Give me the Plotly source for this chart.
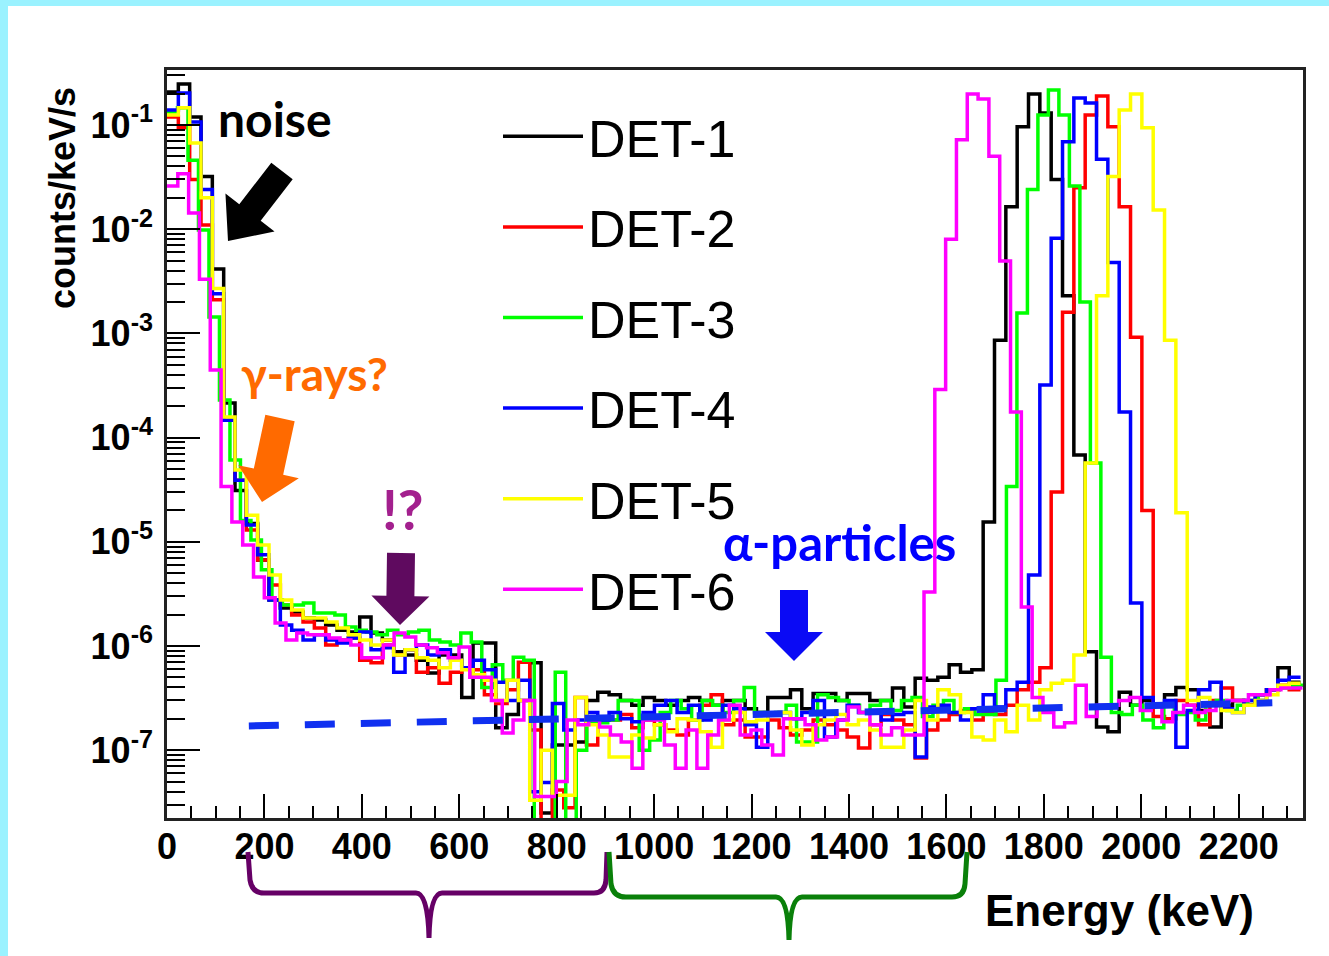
import math
import plotly.graph_objects as go

# ------------------------------------------------------------------ data
DETECTORS = ["DET-1", "DET-2", "DET-3", "DET-4", "DET-5", "DET-6"]
COLORS = ["#000000", "#FF0000", "#00FF00", "#0000FF", "#FFFF00", "#FF00FF"]
# bin width of each detector histogram (keV)
BIN_WIDTH_KEV = [23.27, 23.27, 21.54, 23.27, 23.27, 22.2]

DET1 = [0.207, 0.247, 0.119, 3.2e-2, 4.15e-3, 2.15e-4, 3.1e-5, 1.5e-5, 6.7e-6, 2.77e-6,
        2.32e-6, 2.12e-6, 1.86e-6, 1.78e-6, 1.59e-6, 1.42e-6, 1.36e-6, 1.9e-6, 1.33e-6, 1.14e-6,
        8.8e-7, 8.2e-7, 7.3e-7, 5.5e-7, 8.2e-7, 8.2e-7, 3.2e-7, 1.07e-6, 1.07e-6, 1.64e-7,
        2.2e-7, 3.0e-7, 6.9e-7, 2.5e-8, 1.12e-7, 1.12e-7, 1.2e-7, 3.0e-7, 3.6e-7, 3.4e-7,
        3.0e-7, 2.7e-7, 3.2e-7, 3.0e-7, 2.7e-7, 3.0e-7, 3.2e-7, 3.0e-7, 2.7e-7, 3.0e-7,
        3.0e-7, 2.5e-7, 2.3e-7, 3.2e-7, 3.2e-7, 3.8e-7, 2.5e-7, 3.5e-7, 3.5e-7, 3.0e-7,
        3.5e-7, 3.5e-7, 3.0e-7, 3.0e-7, 3.95e-7, 2.6e-7, 4.9e-7, 4.7e-7, 5.0e-7, 6.6e-7,
        5.6e-7, 5.9e-7, 1.55e-5, 8.6e-4, 1.64e-2, 9.6e-2, 0.198, 0.130, 3.0e-2, 2.3e-3,
        6.8e-5, 8.8e-7, 1.67e-7, 1.5e-7, 3.6e-7, 2.7e-7, 3.0e-7, 2.7e-7, 3.4e-7, 4.0e-7,
        3.8e-7, 2.4e-7, 1.67e-7, 2.7e-7, 3.0e-7, 2.7e-7, 3.0e-7, 3.8e-7, 6.2e-7, 4.5e-7]

DET2 = [0.119, 9.4e-2, 3.0e-2, 1.1e-2, 2.1e-3, 1.47e-4, 3.9e-5, 1.3e-5, 6.7e-6, 3.85e-6,
        2.47e-6, 1.98e-6, 1.7e-6, 1.49e-6, 1.02e-6, 1.14e-6, 1.19e-6, 7.3e-7, 6.9e-7, 1.02e-6,
        8.2e-7, 9.2e-7, 5.6e-7, 6.2e-7, 4.4e-7, 5.6e-7, 6.2e-7, 5.9e-7, 3.4e-7, 2.8e-7,
        3.8e-7, 7.0e-7, 1.56e-7, 1e-9, 4.15e-8, 2.8e-8, 3.2e-7, 1.12e-7, 1.95e-7, 1.95e-7,
        2.2e-7, 1.64e-7, 1.95e-7, 1.75e-7, 1.56e-7, 1.4e-7, 1.95e-7, 2.7e-7, 3.4e-7, 1.75e-7,
        1.95e-7, 1.34e-7, 1.34e-7, 1.95e-7, 1.64e-7, 1.4e-7, 1.56e-7, 1.95e-7, 1.75e-7, 1.56e-7,
        1.34e-7, 1.05e-7, 1.75e-7, 2.2e-7, 1.95e-7, 1.75e-7, 8.4e-8, 1.56e-7, 1.95e-7, 2.2e-7,
        2.4e-7, 1.95e-7, 2.3e-7, 2.2e-7, 2.7e-7, 3.8e-7, 4.5e-7, 6.2e-7, 3.0e-5, 1.6e-3,
        2.5e-2, 0.125, 0.19, 9.6e-2, 1.64e-2, 9.2e-4, 2.0e-5, 2.1e-7, 2.0e-7, 3.0e-7,
        2.7e-7, 1.75e-7, 3.0e-7, 3.95e-7, 3.0e-7, 2.7e-7, 3.4e-7, 3.8e-7, 4.2e-7, 3.8e-7]

DET3 = [0.133, 0.146, 4.6e-2, 9.8e-3, 1.44e-3, 2.3e-4, 6.1e-5, 1.6e-5, 1.04e-5, 5.4e-6,
        2.77e-6, 2.47e-6, 2.47e-6, 2.59e-6, 2.07e-6, 2.07e-6, 1.98e-6, 1.52e-6, 1.42e-6, 1.36e-6,
        1.28e-6, 1.42e-6, 1.28e-6, 1.36e-6, 1.42e-6, 1.14e-6, 1.09e-6, 1.02e-6, 1.33e-6, 1.09e-6,
        4.0e-7, 6.6e-7, 4.7e-7, 7.8e-7, 7.3e-7, 1e-9, 1e-9, 5.6e-7, 1e-9, 1.0e-7,
        1.83e-7, 1.83e-7, 1.95e-7, 3.0e-7, 3.0e-7, 1.0e-7, 1.25e-7, 2.3e-7, 3.0e-7, 2.5e-7,
        1.95e-7, 3.0e-7, 2.7e-7, 2.3e-7, 3.0e-7, 4.0e-7, 2.3e-7, 2.2e-7, 2.3e-7, 2.7e-7,
        1.2e-7, 1.2e-7, 3.4e-7, 3.2e-7, 3.0e-7, 2.7e-7, 2.3e-7, 2.7e-7, 3.0e-7, 2.4e-7,
        3.0e-7, 3.2e-7, 2.1e-7, 2.7e-7, 3.0e-7, 2.3e-7, 2.5e-7, 2.2e-7, 2.2e-7, 4.7e-7,
        3.4e-5, 1.57e-3, 2.4e-2, 0.125, 0.217, 0.125, 2.6e-2, 2.0e-3, 5.7e-5, 7.8e-7,
        2.3e-7, 2.2e-7, 2.7e-7, 1.95e-7, 1.64e-7, 2.7e-7, 2.2e-7, 2.3e-7, 1.95e-7, 2.7e-7,
        3.0e-7, 2.4e-7, 2.7e-7, 3.0e-7, 3.4e-7, 3.8e-7, 3.95e-7, 4.2e-7, 4.2e-7]

DET4 = [0.139, 0.203, 0.107, 2.4e-2, 2.4e-3, 1.47e-4, 3.9e-5, 1.45e-5, 7.5e-6, 2.77e-6,
        1.59e-6, 1.42e-6, 1.14e-6, 1.28e-6, 1.14e-6, 1.07e-6, 1.19e-6, 1.36e-6, 9.2e-7, 9.6e-7,
        5.6e-7, 9.2e-7, 1.02e-6, 8.2e-7, 9.2e-7, 7.3e-7, 6.2e-7, 7.3e-7, 5.9e-7, 4.5e-7,
        3.0e-7, 4.7e-7, 4.0e-8, 4.9e-8, 2.8e-7, 1.56e-7, 1.95e-7, 2.3e-7, 1.95e-7, 2.3e-7,
        2.0e-7, 1.87e-7, 2.3e-7, 2.7e-7, 3.0e-7, 2.3e-7, 2.7e-7, 1.95e-7, 2.2e-7, 2.7e-7,
        2.5e-7, 1.75e-7, 1.07e-7, 2.2e-7, 2.3e-7, 2.0e-7, 2.3e-7, 3.0e-7, 1.34e-7, 1.95e-7,
        2.7e-7, 2.3e-7, 2.4e-7, 1.95e-7, 2.2e-7, 2.3e-7, 8.6e-8, 2.6e-7, 2.7e-7, 2.3e-7,
        1.95e-7, 2.5e-7, 3.4e-7, 2.6e-7, 3.8e-7, 4.5e-7, 4.8e-6, 3.2e-4, 8.2e-3, 6.9e-2,
        0.182, 0.163, 4.7e-2, 4.8e-3, 1.76e-4, 2.59e-6, 3.2e-7, 2.7e-7, 3.0e-7, 1.07e-7,
        2.4e-7, 3.8e-7, 4.5e-7, 2.5e-7, 2.3e-7, 3.0e-7, 3.4e-7, 3.8e-7, 4.7e-7, 5.0e-7]

DET5 = [0.125, 0.146, 6.7e-2, 2.0e-2, 2.7e-3, 1.58e-4, 4.9e-5, 1.8e-5, 9.3e-6, 4.8e-6,
        2.77e-6, 2.21e-6, 1.86e-6, 1.86e-6, 1.7e-6, 1.49e-6, 1.28e-6, 1.14e-6, 1.02e-6, 1.14e-6,
        8.2e-7, 9.2e-7, 7.7e-7, 7.3e-7, 6.2e-7, 7.3e-7, 5.9e-7, 5.3e-7, 4.7e-7, 3.0e-7,
        4.7e-7, 3.0e-7, 3.3e-8, 1.0e-7, 3.7e-8, 3.7e-8, 3.2e-7, 1.75e-7, 1.4e-7, 8.6e-8,
        8.6e-8, 1.4e-7, 1.31e-7, 1.75e-7, 1.5e-7, 2.0e-7, 1.95e-7, 1.5e-7, 1.07e-7, 1.95e-7,
        2.3e-7, 1.87e-7, 1.95e-7, 2.2e-7, 2.3e-7, 1.56e-7, 1.12e-7, 1.75e-7, 1.95e-7, 2.2e-7,
        1.75e-7, 1.95e-7, 1.56e-7, 1.07e-7, 1.07e-7, 1.56e-7, 3.0e-7, 1.95e-7, 3.8e-7, 3.4e-7,
        2.3e-7, 1.34e-7, 1.25e-7, 1.95e-7, 1.5e-7, 2.7e-7, 1.95e-7, 3.8e-7, 4.4e-7, 4.7e-7,
        8.2e-7, 5.7e-5, 2.3e-3, 3.2e-2, 0.139, 0.198, 9.4e-2, 1.53e-2, 8.6e-4, 1.9e-5,
        3.0e-7, 3.2e-7, 2.7e-7, 2.4e-7, 2.3e-7, 2.7e-7, 3.0e-7, 3.4e-7, 4.2e-7, 4.4e-7]

DET6 = [2.6e-2, 3.4e-2, 1.43e-2, 3.3e-3, 4.45e-4, 3.4e-5, 1.55e-5, 9.3e-6, 4.6e-6, 2.9e-6,
        1.66e-6, 1.14e-6, 1.33e-6, 1.28e-6, 1.28e-6, 1.19e-6, 1.14e-6, 1.02e-6, 7.7e-7, 7.7e-7,
        1.02e-6, 1.33e-6, 1.22e-6, 1.02e-6, 9.6e-7, 8.6e-7, 7.7e-7, 9.8e-7, 5.0e-7, 5.0e-7,
        3.0e-7, 1.46e-7, 1.95e-7, 3.0e-7, 3.6e-8, 3.6e-8, 5.0e-8, 1.95e-7, 1.75e-7, 1.95e-7,
        1.67e-7, 1.4e-7, 1.2e-7, 6.7e-8, 1.95e-7, 1.95e-7, 1.12e-7, 6.7e-8, 1.56e-7, 6.7e-8,
        1.4e-7, 1.95e-7, 2.7e-7, 1.4e-7, 1.56e-7, 1.12e-7, 9.0e-8, 2.0e-7, 2.0e-7, 1.75e-7,
        1.25e-7, 1.34e-7, 1.95e-7, 2.6e-7, 2.3e-7, 1.75e-7, 1.4e-7, 1.64e-7, 1.4e-7, 1.4e-7,
        3.3e-6, 2.9e-4, 8.0e-3, 7.2e-2, 0.198, 0.178, 5.0e-2, 4.95e-3, 1.76e-4, 2.37e-6,
        3.2e-7, 2.3e-7, 1.67e-7, 1.83e-7, 4.2e-7, 2.1e-7, 2.7e-7, 2.7e-7, 3.0e-7, 3.2e-7,
        2.4e-7, 2.7e-7, 1.87e-7, 2.3e-7, 2.7e-7, 2.3e-7, 2.4e-7, 2.7e-7, 3.0e-7, 3.0e-7,
        3.4e-7, 3.4e-7, 3.8e-7, 3.95e-7, 3.95e-7]

SERIES = [DET1, DET2, DET3, DET4, DET5, DET6]

# flat background fit (dashed line), energy (keV) and rate at both ends
FIT_E = [168, 2269]
FIT_RATE = [1.71e-7, 2.85e-7]

X_TICKS = list(range(0, 2201, 200))
Y_TICKS = [1e-1, 1e-2, 1e-3, 1e-4, 1e-5, 1e-6, 1e-7]
Y_TICK_TEXT = ["10<sup>-1</sup>", "10<sup>-2</sup>", "10<sup>-3</sup>", "10<sup>-4</sup>",
               "10<sup>-5</sup>", "10<sup>-6</sup>", "10<sup>-7</sup>"]
X_RANGE = [0, 2332]
Y_RANGE_LOG = [-7.6507, -0.4722]

# ------------------------------------------------------------------ geometry helpers
IMG_W, IMG_H = 1329, 956
L, R, T, B = 167, 1303, 70, 818


def px(x):
    return (x - L) / (R - L)


def py(y):
    return (B - y) / (B - T)


def arrow_path(tail, tip, shaft, head_w, head_len):
    dx, dy = tip[0] - tail[0], tip[1] - tail[1]
    n = math.hypot(dx, dy)
    ux, uy = dx / n, dy / n
    nx, ny = -uy, ux
    bx, by = tip[0] - ux * head_len, tip[1] - uy * head_len
    pts = [(tail[0] + nx * shaft / 2, tail[1] + ny * shaft / 2),
           (bx + nx * shaft / 2, by + ny * shaft / 2),
           (bx + nx * head_w / 2, by + ny * head_w / 2),
           tip,
           (bx - nx * head_w / 2, by - ny * head_w / 2),
           (bx - nx * shaft / 2, by - ny * shaft / 2),
           (tail[0] - nx * shaft / 2, tail[1] - ny * shaft / 2)]
    return "M " + " L ".join(f"{px(x):.5f},{py(y):.5f}" for x, y in pts) + " Z"


def brace_path(cmds):
    out = []
    for c, pts in cmds:
        coords = " ".join(f"{px(pts[i]):.5f},{py(pts[i + 1]):.5f}" for i in range(0, len(pts), 2))
        out.append(f"{c} {coords}")
    return " ".join(out)


# ------------------------------------------------------------------ figure
fig = go.Figure()

for name, color, width, vals in zip(DETECTORS, COLORS, BIN_WIDTH_KEV, SERIES):
    edges = [i * width for i in range(len(vals) + 1)]
    fig.add_trace(go.Scatter(
        x=edges, y=list(vals) + [vals[-1]], mode="lines", name=name,
        line=dict(color=color, width=3.5, shape="hv"),
        legendgroup=name, hoverinfo="skip"))

fig.add_trace(go.Scatter(
    x=FIT_E, y=FIT_RATE, mode="lines", showlegend=False, hoverinfo="skip",
    line=dict(color="#1030F0", width=7, dash="30px,26px")))

tick_font = dict(family="Liberation Sans", size=36, color="black", weight="bold")

fig.update_xaxes(
    range=X_RANGE, tickmode="array", tickvals=X_TICKS,
    ticks="inside", ticklen=24, tickwidth=1.6, tickcolor="black",
    minor=dict(dtick=50, tick0=0, ticks="inside", ticklen=12, tickwidth=1.6, tickcolor="black"),
    showline=True, linecolor="#222222", linewidth=2.5, mirror=True,
    showgrid=False, zeroline=False, tickfont=tick_font, ticklabelstandoff=-5)

minor_y = [k * 10.0 ** e for e in range(-8, 0) for k in range(2, 10)]
fig.update_yaxes(
    type="log", range=Y_RANGE_LOG, tickmode="array", tickvals=Y_TICKS, ticktext=Y_TICK_TEXT,
    ticks="inside", ticklen=33, tickwidth=1.6, tickcolor="black",
    minor=dict(tickmode="array", tickvals=minor_y, ticks="inside", ticklen=18,
               tickwidth=1.6, tickcolor="black"),
    showline=True, linecolor="#222222", linewidth=2.5, mirror=True,
    showgrid=False, zeroline=False, tickfont=tick_font, ticklabelstandoff=4)

shapes = []
# cyan slide edge
shapes.append(dict(type="rect", xref="paper", yref="paper", x0=px(0), x1=px(IMG_W), y0=py(0), y1=py(6),
                   fillcolor="#9AF2FF", line=dict(width=0), layer="above"))
shapes.append(dict(type="rect", xref="paper", yref="paper", x0=px(0), x1=px(8), y0=py(0), y1=py(IMG_H),
                   fillcolor="#9AF2FF", line=dict(width=0), layer="above"))
# block arrows
arrows = [((282, 171), (228, 241), 27, 62, 36, "#000000"),
          ((280, 418), (262, 502), 30, 62, 31, "#FF6A00"),
          ((401, 553), (400, 625), 28, 58, 29, "#5F0A5F"),
          ((794, 590), (794, 661), 28, 58, 29, "#0A0AF5")]
for tail, tip, sw, hw, hl, col in arrows:
    shapes.append(dict(type="path", xref="paper", yref="paper", path=arrow_path(tail, tip, sw, hw, hl),
                       fillcolor=col, line=dict(width=0), layer="above"))
# curly braces under the axis
purple_brace = [("M", (248, 852)), ("L", (250, 880)), ("Q", (252, 893, 264, 893)), ("L", (416, 893)),
                ("Q", (428, 893, 429, 938)), ("Q", (430, 893, 442, 893)), ("L", (594, 893)),
                ("Q", (605, 893, 606, 880)), ("L", (607, 852))]
green_brace = [("M", (609, 852)), ("L", (611, 884)), ("Q", (613, 897, 626, 897)), ("L", (776, 897)),
               ("Q", (788, 897, 789, 940)), ("Q", (790, 897, 802, 897)), ("L", (952, 897)),
               ("Q", (964, 897, 965, 884)), ("L", (967, 852))]
shapes.append(dict(type="path", xref="paper", yref="paper", path=brace_path(purple_brace),
                   line=dict(color="#660066", width=5), layer="above"))
shapes.append(dict(type="path", xref="paper", yref="paper", path=brace_path(green_brace),
                   line=dict(color="#0A800A", width=5), layer="above"))

ann_font = "Lato, Open Sans, sans-serif"
annotations = [
    dict(text="<b>noise</b>", x=px(275), y=py(118), font=dict(family=ann_font, size=48, color="black")),
    dict(text="<b>γ-rays?</b>", x=px(314), y=py(374), font=dict(family=ann_font, size=46, color="#FF6A00")),
    dict(text="<b>!?</b>", x=px(403), y=py(508), font=dict(family=ann_font, size=56, color="#A3208E")),
    dict(text="<b>α-particles</b>", x=px(839), y=py(542), font=dict(family=ann_font, size=49, color="#0000FF")),
    dict(text="<b>Energy (keV)</b>", x=px(1256), y=py(910), xanchor="right",
         font=dict(family="Liberation Sans", size=44, color="black")),
    dict(text="<b>counts/keV/s</b>", x=px(62), y=py(198), textangle=-90,
         font=dict(family="Liberation Sans", size=36, color="black")),
]
for a in annotations:
    a.setdefault("xanchor", "center")
    a.update(xref="paper", yref="paper", yanchor="middle", showarrow=False)

fig.update_layout(
    width=IMG_W, height=IMG_H, autosize=False,
    margin=dict(l=L, r=IMG_W - R, t=T, b=IMG_H - B, pad=0),
    paper_bgcolor="white", plot_bgcolor="white",
    shapes=shapes, annotations=annotations,
    legend=dict(x=px(498), y=py(96), xanchor="left", yanchor="top",
                bgcolor="rgba(0,0,0,0)", borderwidth=0, itemwidth=80,
                tracegroupgap=20, traceorder="grouped",
                font=dict(family="Liberation Sans", size=52, color="black")),
    showlegend=True,
)

fig.write_html("out.html")
